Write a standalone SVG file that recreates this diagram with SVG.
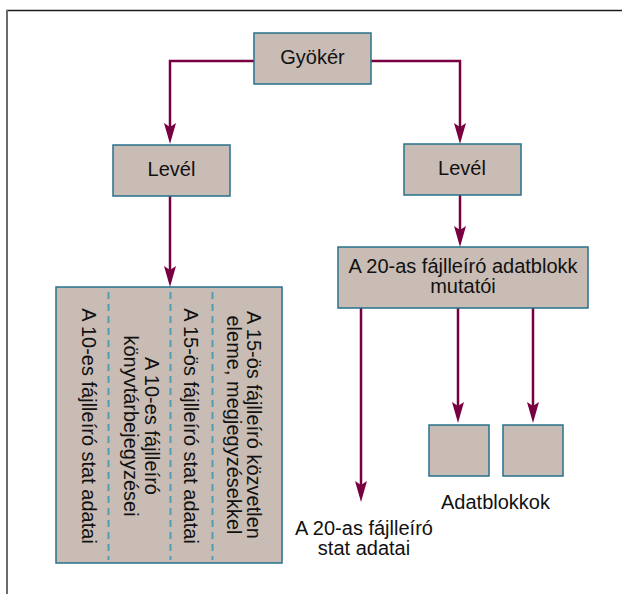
<svg xmlns="http://www.w3.org/2000/svg" width="622" height="594" viewBox="0 0 622 594">
<style>
.node{fill:#c8bcb4;stroke:#27708c;stroke-width:1.5}
.t{font-family:"Liberation Sans",Arial,sans-serif;font-size:20px;fill:#111}
.c{fill:none;stroke:#780040;stroke-width:2.5;marker-end:url(#ah)}
.d{stroke:#4e9db5;stroke-width:2;stroke-dasharray:7 5}
</style>
<defs>
<marker id="ah" markerUnits="userSpaceOnUse" markerWidth="22" markerHeight="12" refX="11" refY="6" orient="auto" overflow="visible">
<path d="M0,0 L21,6 L0,12 L4,6 Z" fill="#780040"/>
</marker>
</defs>
<rect width="622" height="594" fill="#fff"/>
<g id="frame">
<line x1="6" y1="10.5" x2="622" y2="10.5" stroke="#1e1e1e" stroke-width="1.5"/>
<line x1="7" y1="10" x2="7" y2="594" stroke="#6b6b6b" stroke-width="2"/>
</g>
<g id="connectors">
<path class="c" d="M254,61 H170 V134"/>
<path class="c" d="M371,61 H460 V134"/>
<path class="c" d="M170,196 V277"/>
<path class="c" d="M460,195 V237"/>
<path class="c" d="M361,308 V492"/>
<path class="c" d="M458,308 V413"/>
<path class="c" d="M533,308 V413"/>
</g>
<g id="root">
<rect class="node" x="254" y="33" width="117" height="51"/>
<text class="t" x="312.5" y="64" text-anchor="middle">Gyökér</text>
</g>
<g id="leaf-left">
<rect class="node" x="113" y="145" width="117" height="51"/>
<text class="t" x="171.5" y="176" text-anchor="middle">Levél</text>
</g>
<g id="leaf-right">
<rect class="node" x="404" y="144" width="117" height="51"/>
<text class="t" x="462" y="175" text-anchor="middle">Levél</text>
</g>
<g id="dir-block">
<rect class="node" x="56" y="287" width="226" height="276"/>
<line class="d" x1="108.5" y1="292" x2="108.5" y2="560"/>
<line class="d" x1="170.5" y1="292" x2="170.5" y2="560"/>
<line class="d" x1="212.5" y1="292" x2="212.5" y2="560"/>
<text class="t" transform="translate(82,426) rotate(90)" text-anchor="middle">A 10-es fájlleíró stat adatai</text>
<text class="t" transform="translate(145,426) rotate(90)" text-anchor="middle"><tspan x="0" y="0">A 10-es fájlleíró</tspan><tspan x="0" y="21">könyvtárbejegyzései</tspan></text>
<text class="t" transform="translate(184,426) rotate(90)" text-anchor="middle">A 15-ös fájlleíró stat adatai</text>
<text class="t" transform="translate(247,425) rotate(90)" text-anchor="middle"><tspan x="0" y="0">A 15-ös fájlleíró közvetlen</tspan><tspan x="0" y="20.5">eleme, megjegyzésekkel</tspan></text>
</g>
<g id="pointers">
<rect class="node" x="338" y="247" width="250" height="61"/>
<text class="t" x="463" y="273" text-anchor="middle"><tspan x="463" y="273">A 20-as fájlleíró adatblokk</tspan><tspan x="463" y="293">mutatói</tspan></text>
</g>
<g id="block1">
<rect class="node" x="429" y="425" width="60" height="51"/>
</g>
<g id="block2">
<rect class="node" x="503" y="425" width="60" height="51"/>
</g>
<g id="label-blocks">
<text class="t" x="495.5" y="509" text-anchor="middle">Adatblokkok</text>
</g>
<g id="label-stat">
<text class="t" x="364" y="535" text-anchor="middle"><tspan x="364" y="535">A 20-as fájlleíró</tspan><tspan x="364" y="555">stat adatai</tspan></text>
</g>
</svg>
